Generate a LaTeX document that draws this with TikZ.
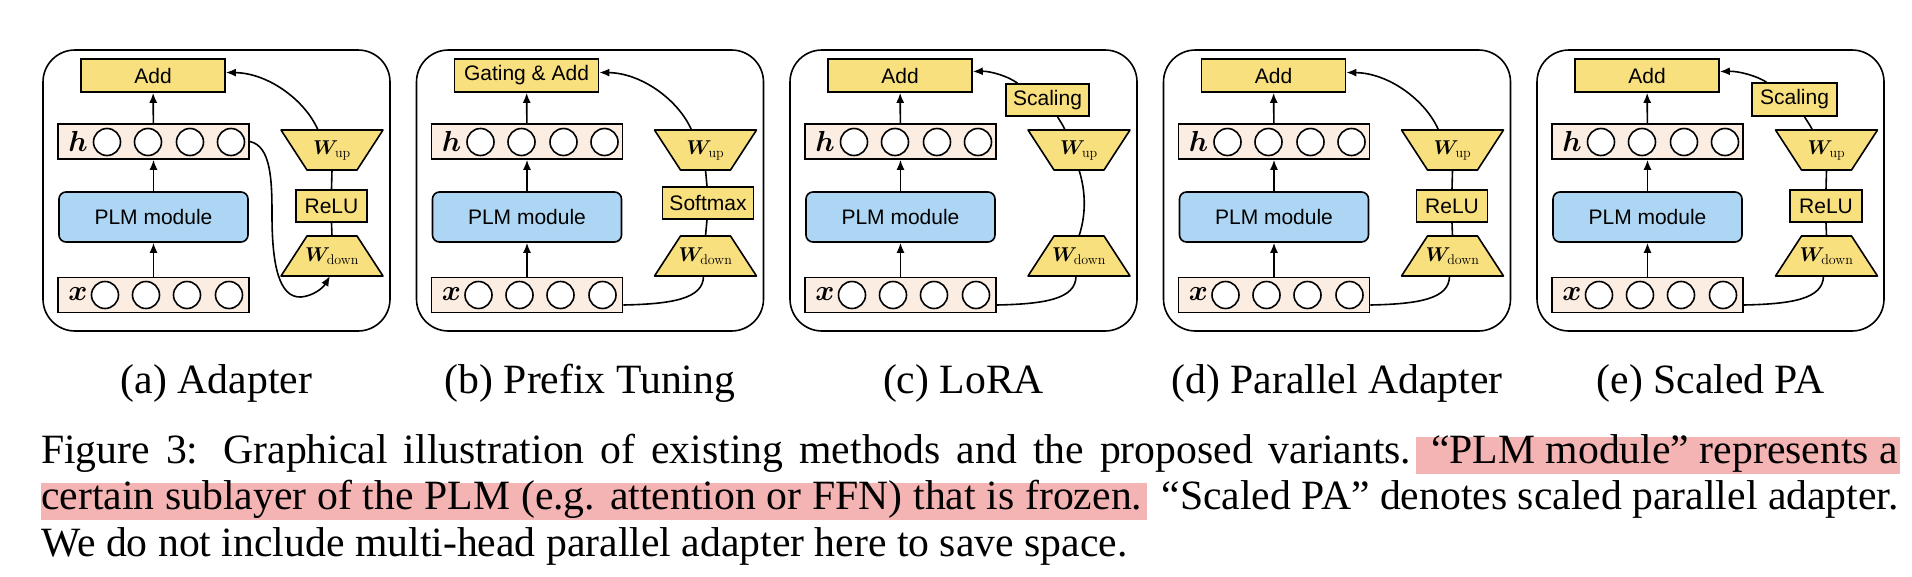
\RequirePackage{fix-cm}
\documentclass[tikz,border=0pt]{standalone}
\usepackage[no-math]{fontspec}
\setmainfont{Liberation Serif}
\newfontfamily\dsans{Liberation Sans}
\usepackage{bm}
\usetikzlibrary{arrows.meta}
\pgfdeclarelayer{bg}
\pgfsetlayers{bg,main}
\definecolor{yel}{RGB}{249,224,126}
\definecolor{peach}{RGB}{252,237,226}
\definecolor{plmblue}{RGB}{172,214,243}
\definecolor{hlpink}{RGB}{244,180,180}
\newcommand\DiagFont{\dsans\fontsize{21pt}{25pt}\selectfont}
\newcommand\VarFont{\fontsize{29pt}{33pt}\selectfont}
\newcommand\WFont{\fontsize{20pt}{24pt}\selectfont}
\newcommand\CapFont{\fontsize{41.7pt}{50pt}\selectfont}
\newcommand\TrapUp[1]{\begin{pgfonlayer}{bg}\draw[conn,fill=yel,line join=round] (#1.north west) -- (#1.north east) -- ([xshift=-26pt]#1.south east) -- ([xshift=26pt]#1.south west) -- cycle;\end{pgfonlayer}}
\newcommand\TrapDown[1]{\begin{pgfonlayer}{bg}\draw[conn,fill=yel,line join=round] ([xshift=26pt]#1.north west) -- ([xshift=-26pt]#1.north east) -- (#1.south east) -- (#1.south west) -- cycle;\end{pgfonlayer}}
\newcommand\LeftColumn[2]{%
  \node[panelbox] (#1-panel) at (173.5,190.5) {};
  \node[ybox, minimum width=144pt] (#1-add) at (110,75.5) {#2};
  \node[rowbox] (#1-h) at (110.5,141.5) {};
  \node[vlab] (#1-hl) at (35,141) {$\bm{h}$};
  \foreach \cx [count=\k] in {64,105,147,188} {\node[cir] (#1-h\k) at (\cx,142) {};}
  \node[plmbox] (#1-plm) at (110.5,217) {PLM module};
  \node[rowbox] (#1-x) at (110.5,295) {};
  \node[vlab] (#1-xl) at (35,294) {$\bm{x}$};
  \foreach \cx [count=\k] in {62,103,144,186} {\node[cir] (#1-x\k) at (\cx,295) {};}
  \draw[arr] (#1-x) -- (#1-plm);
  \draw[arr] (#1-plm) -- (#1-h);
  \draw[arr] (#1-h) -- (#1-add);
}
\begin{document}
\begin{tikzpicture}[x=1pt,y=-1pt,
  conn/.style={line width=1.6pt},
  arr/.style={line width=1.6pt, -{Latex[length=10pt,width=8pt]}},
  panelbox/.style={draw, line width=1.6pt, rounded corners=32pt, minimum width=347pt, minimum height=281pt, inner sep=0pt},
  ybox/.style={draw, fill=yel, line width=1.6pt, font=\DiagFont, inner sep=0pt, minimum height=33pt},
  rowbox/.style={draw, fill=peach, line width=1.6pt, minimum width=191pt, minimum height=35pt, inner sep=0pt},
  plmbox/.style={draw, fill=plmblue, line width=1.6pt, rounded corners=7pt, minimum width=189pt, minimum height=50pt, inner sep=0pt, font=\DiagFont},
  cir/.style={circle, draw, fill=white, line width=1.6pt, minimum size=27pt, inner sep=0pt},
  vlab/.style={inner sep=0pt, font=\VarFont},
  trapnode/.style={minimum width=102pt, minimum height=40pt, inner sep=0pt, outer sep=0pt, font=\WFont},
  sub/.style={anchor=base, inner sep=0pt, font=\CapFont},
  capline/.style={anchor=base west, inner sep=0pt, font=\CapFont}]
\useasboundingbox (0,0) rectangle (1912,576);
\begin{pgfonlayer}{bg}
\fill[white] (0,0) rectangle (1912,576);
\end{pgfonlayer}

% ---------- (a) Adapter
\begin{scope}[xshift=43pt]
\LeftColumn{a}{Add}
\node[trapnode] (a-wup) at (289,150) {$\bm{W}_{\mathrm{up}}$};
\TrapUp{a-wup}
\node[ybox, minimum width=71pt, minimum height=32pt] (a-relu) at (288.5,206) {ReLU};
\node[trapnode] (a-wdown) at (289,256) {$\bm{W}_{\mathrm{down}}$};
\TrapDown{a-wdown}
\draw[conn] (a-wup.south) -- (a-relu.north);
\draw[conn] (a-relu.south) -- (a-wdown.north);
\draw[arr] ([xshift=-14pt]a-wup.north) .. controls (262,100) and (225,73) .. ([yshift=3pt]a-add.east);
\draw[arr] (a-h.east) .. controls (228,146) and (229,180) .. (229,215) .. controls (229,265) and (236,298) .. (258,297) .. controls (270,296) and (280,288) .. ([xshift=-2pt]a-wdown.south);
\end{scope}

% ---------- (b) Prefix Tuning
\begin{scope}[xshift=416.5pt]
\LeftColumn{b}{Gating \& Add}
\node[trapnode] (b-wup) at (289,150) {$\bm{W}_{\mathrm{up}}$};
\TrapUp{b-wup}
\node[ybox, minimum width=91pt, minimum height=32pt] (b-soft) at (291.5,203) {Softmax};
\node[trapnode] (b-wdown) at (289,256) {$\bm{W}_{\mathrm{down}}$};
\TrapDown{b-wdown}
\draw[conn] (b-wup.south) -- ([xshift=-1pt]b-soft.north);
\draw[conn] ([xshift=-1pt]b-soft.south) -- (b-wdown.north);
\draw[arr] ([xshift=-14pt]b-wup.north) .. controls (262,100) and (225,73) .. ([yshift=3pt]b-add.east);
\draw[conn] ([yshift=-10pt]b-x.east) .. controls (255,304) and (287,299) .. ([xshift=-2pt]b-wdown.south);
\end{scope}

% ---------- (c) LoRA
\begin{scope}[xshift=790pt]
\LeftColumn{c}{Add}
\node[ybox, minimum width=83pt, minimum height=32pt] (c-scal) at (257.5,100) {Scaling};
\node[trapnode] (c-wup) at (289,150) {$\bm{W}_{\mathrm{up}}$};
\TrapUp{c-wup}
\node[trapnode] (c-wdown) at (289,256) {$\bm{W}_{\mathrm{down}}$};
\TrapDown{c-wdown}
\draw[arr] ([xshift=-30pt]c-scal.north) .. controls (218,76) and (200,71) .. ([yshift=4pt]c-add.east);
\draw[conn] ([xshift=10pt]c-scal.south) .. controls (270,121) and (273,125) .. ([xshift=-14pt]c-wup.north);
\draw[conn] (c-wup.south) .. controls (296,192) and (296,215) .. (c-wdown.north);
\draw[conn] ([yshift=-10pt]c-x.east) .. controls (255,304) and (286,299) .. ([xshift=-3pt]c-wdown.south);
\end{scope}

% ---------- (d) Parallel Adapter
\begin{scope}[xshift=1163.5pt]
\LeftColumn{d}{Add}
\node[trapnode] (d-wup) at (289,150) {$\bm{W}_{\mathrm{up}}$};
\TrapUp{d-wup}
\node[ybox, minimum width=71pt, minimum height=32pt] (d-relu) at (288.5,206) {ReLU};
\node[trapnode] (d-wdown) at (289,256) {$\bm{W}_{\mathrm{down}}$};
\TrapDown{d-wdown}
\draw[conn] (d-wup.south) -- (d-relu.north);
\draw[conn] (d-relu.south) -- (d-wdown.north);
\draw[arr] ([xshift=-14pt]d-wup.north) .. controls (262,100) and (225,73) .. ([yshift=3pt]d-add.east);
\draw[conn] ([yshift=-10pt]d-x.east) .. controls (255,304) and (286,299) .. ([xshift=-3pt]d-wdown.south);
\end{scope}

% ---------- (e) Scaled PA
\begin{scope}[xshift=1537pt]
\LeftColumn{e}{Add}
\node[ybox, minimum width=85pt, minimum height=33pt] (e-scal) at (257.5,99.5) {Scaling};
\node[trapnode] (e-wup) at (289.5,150) {$\bm{W}_{\mathrm{up}}$};
\TrapUp{e-wup}
\node[ybox, minimum width=72pt, minimum height=32pt] (e-relu) at (289,206) {ReLU};
\node[trapnode] (e-wdown) at (289.5,256) {$\bm{W}_{\mathrm{down}}$};
\TrapDown{e-wdown}
\draw[conn] (e-wup.south) -- (e-relu.north);
\draw[conn] (e-relu.south) -- (e-wdown.north);
\draw[arr] ([xshift=-28pt]e-scal.north) .. controls (220,76) and (202,71) .. ([yshift=4pt]e-add.east);
\draw[conn] ([xshift=10pt]e-scal.south) .. controls (270,121) and (273,125) .. ([xshift=-14pt]e-wup.north);
\draw[conn] ([yshift=-10pt]e-x.east) .. controls (255,304) and (286,299) .. ([xshift=-3pt]e-wdown.south);
\end{scope}

% ---------- sub-captions
\node[sub] (capa) at (216.5,393) {(a) Adapter};
\node[sub] (capb) at (590,393) {(b) Prefix Tuning};
\node[sub] (capc) at (963.5,393) {(c) LoRA};
\node[sub] (capd) at (1337,393) {(d) Parallel Adapter};
\node[sub] (cape) at (1710.5,393) {(e) Scaled PA};

% ---------- figure caption
\fill[hlpink] (1416,437) rectangle (1900,474);
\fill[hlpink] (41,483) rectangle (1147,520);
\node[capline] (l1a) at (41,463) {\makebox[1370pt][s]{Figure 3: Graphical illustration of existing methods and the proposed variants.}};
\node[capline, anchor=base east] (l1b) at (1898,463) {“PLM module” represents a};
\node[capline] (l2a) at (41,509) {\makebox[1101pt][s]{certain sublayer of the PLM (e.g. attention or FFN) that is frozen.}};
\node[capline, anchor=base east] (l2b) at (1899,509) {“Scaled PA” denotes scaled parallel adapter.};
\node[capline] (l3) at (41,556) {We do not include multi-head parallel adapter here to save space.};
\end{tikzpicture}
\end{document}
